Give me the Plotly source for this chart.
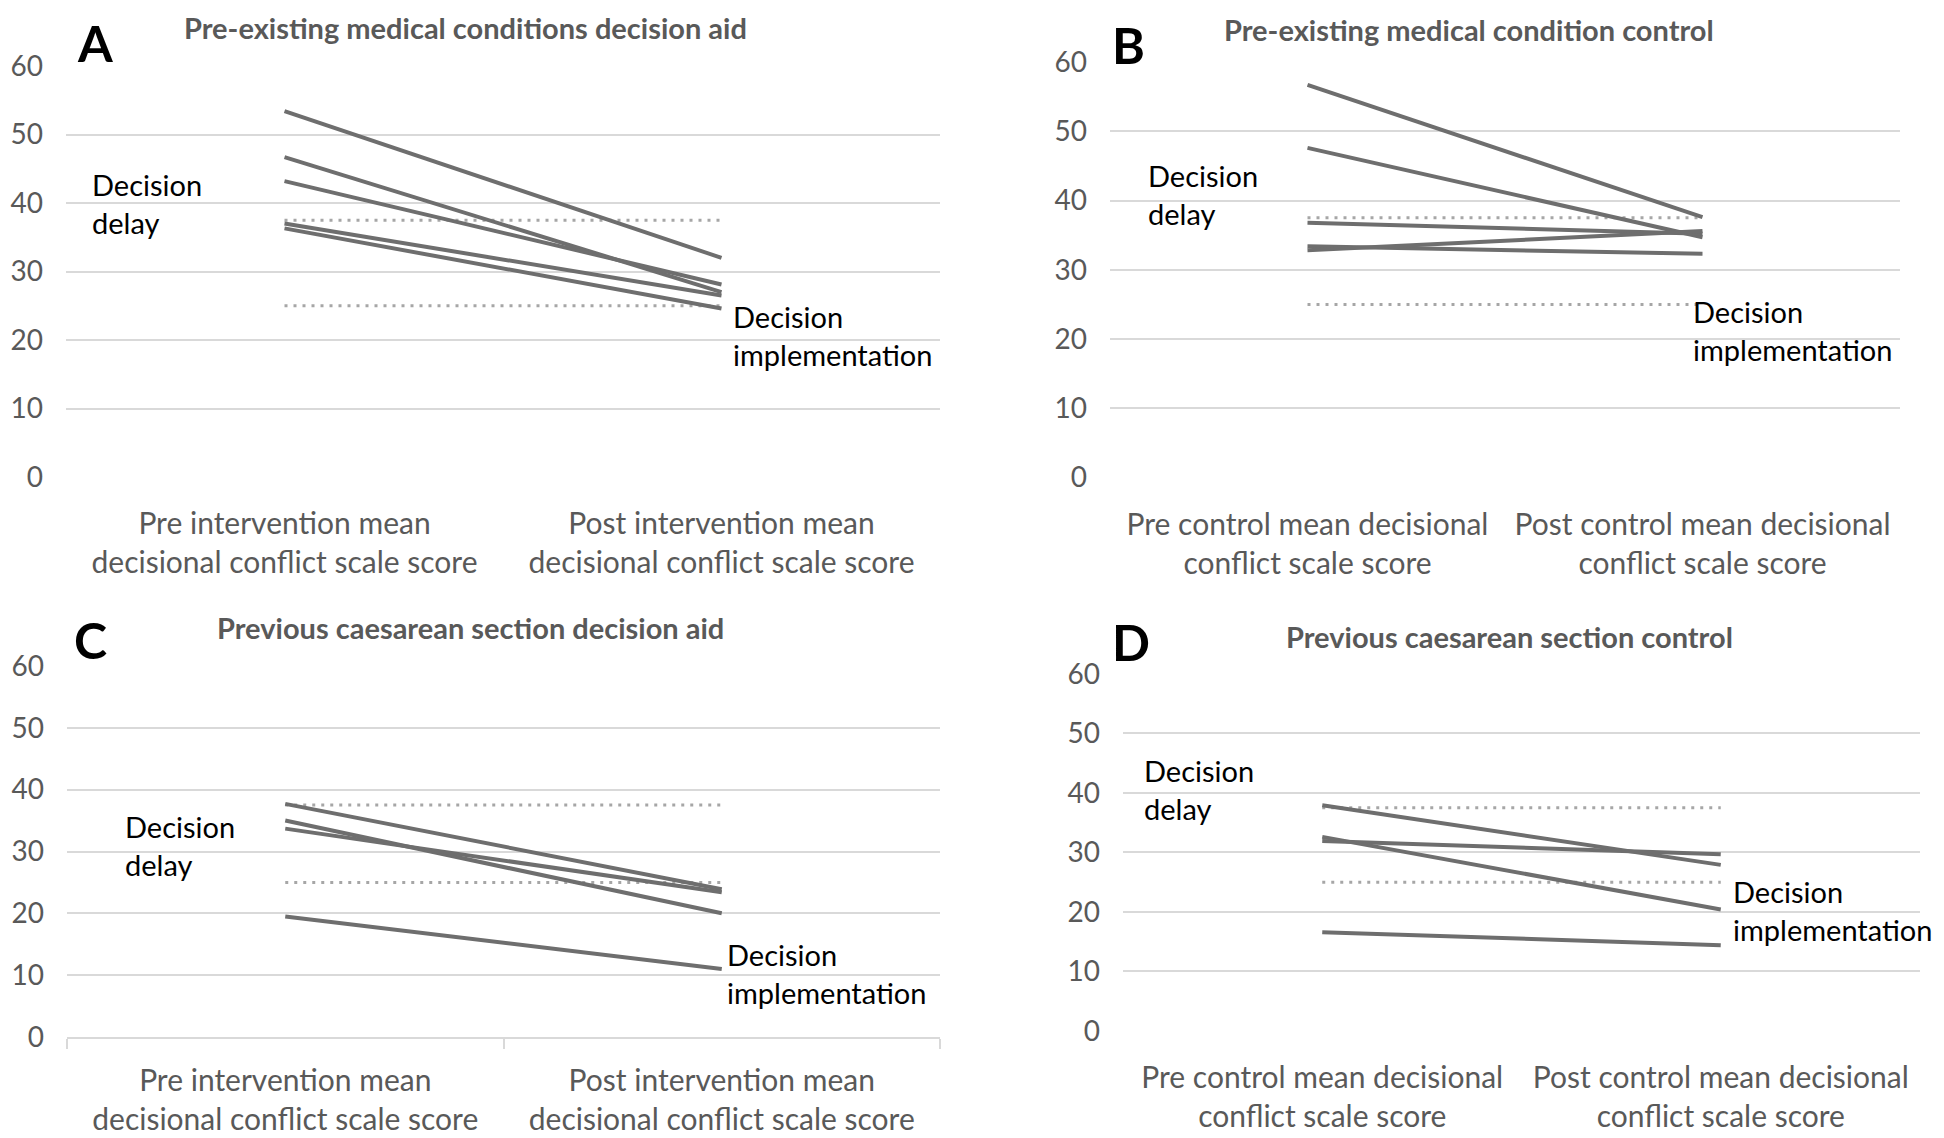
import plotly.graph_objects as go

W, H = 1944, 1138
OFF = 8  # page body margin

# category labels
cats_aid = ["Pre intervention mean<br>decisional conflict scale score",
            "Post intervention mean<br>decisional conflict scale score"]
cats_ctrl = ["Pre control mean decisional<br>conflict scale score",
             "Post control mean decisional<br>conflict scale score"]

# decisional conflict thresholds (delay / implementation)
thresholds = [37.5, 25]

# A: pre-existing medical conditions, decision aid
a_pre = [53.4, 46.7, 43.2, 37.0, 36.3]
a_post = [32.0, 27.0, 28.1, 26.5, 24.6]
# B: pre-existing medical condition, control
b_pre = [56.7, 47.6, 36.8, 33.4, 32.8]
b_post = [37.6, 34.7, 35.2, 32.3, 35.6]
# C: previous caesarean section, decision aid
c_pre = [37.7, 35.0, 33.7, 19.5]
c_post = [23.9, 20.0, 23.4, 11.0]
# D: previous caesarean section, control
d_pre = [37.9, 31.9, 32.6, 16.6]
d_post = [27.9, 29.7, 20.4, 14.4]

titles = ["Pre-existing medical conditions decision aid",
          "Pre-existing medical condition control",
          "Previous caesarean section decision aid",
          "Previous caesarean section control"]
letters = ["A", "B", "C", "D"]

FONT = "Lato"
LINE = "#6e6e6e"
DOT = "#a6a6a6"
GRID = "#d9d9d9"
TXT = "#595959"


def px(x, y):
    return (x - OFF) / W, 1 - (y - OFF) / H


# pixel boxes of the plot areas: x0, x1, y_top(60), y_bottom(0)
boxes = [(66, 940, 66, 477), (1110, 1900, 62, 477.5),
         (67, 940, 666, 1037), (1123, 1920, 673.7, 1031)]

panels = [(cats_aid, a_pre, a_post), (cats_ctrl, b_pre, b_post),
          (cats_aid, c_pre, c_post), (cats_ctrl, d_pre, d_post)]

fig = go.Figure()
layout = {}
for i, ((cats, pre, post), box) in enumerate(zip(panels, boxes)):
    n = "" if i == 0 else str(i + 1)
    xa, ya = "x" + n, "y" + n
    x0, yt = px(box[0], box[2])
    x1, yb = px(box[1], box[3])
    # threshold lines
    for t in thresholds:
        fig.add_trace(go.Scatter(x=cats, y=[t, t], mode="lines", xaxis=xa, yaxis=ya,
                                 line=dict(color=DOT, width=3, dash="3px,6px"),
                                 showlegend=False, hoverinfo="skip"))
    for p, q in zip(pre, post):
        fig.add_trace(go.Scatter(x=cats, y=[p, q], mode="lines", xaxis=xa, yaxis=ya,
                                 line=dict(color=LINE, width=4),
                                 showlegend=False))
    show_base = (i == 2)
    layout["xaxis" + n] = dict(
        domain=[x0, x1], anchor=ya, type="category", range=[-0.5, 1.5],
        showgrid=False, zeroline=False,
        showline=show_base, linecolor=GRID, linewidth=2,
        ticks="outside" if show_base else "", tickson="boundaries",
        ticklen=10, tickcolor=GRID, tickwidth=2,
        ticklabelstandoff=16 if show_base else 26,
        tickfont=dict(family=FONT, size=30, color=TXT))
    layout["yaxis" + n] = dict(
        domain=[yb, yt], anchor=xa, range=[0, 60], dtick=10,
        showgrid=True, gridcolor=GRID, gridwidth=2, zeroline=False, showline=False,
        ticks="", ticklabelstandoff=22,
        tickfont=dict(family=FONT, size=28, color=TXT))

annotations = []
title_pos = [(465, 27), (1469, 30), (470, 627), (1509, 636)]
letter_pos = [(95, 43), (1128, 45), (90, 640), (1131, 642)]
for t, (x, y) in zip(titles, title_pos):
    ax, ay = px(x, y)
    annotations.append(dict(x=ax, y=ay, xref="paper", yref="paper", text="<b>" + t + "</b>",
                            showarrow=False, xanchor="center", yanchor="middle",
                            font=dict(family=FONT, size=29, color=TXT)))
for t, (x, y) in zip(letters, letter_pos):
    ax, ay = px(x, y)
    annotations.append(dict(x=ax, y=ay, xref="paper", yref="paper", text="<b>" + t + "</b>",
                            showarrow=False, xanchor="center", yanchor="middle",
                            font=dict(family=FONT, size=50, color="black")))

delay_pos = [(90, 203), (1146, 195), (123, 845), (1142, 789)]
impl_pos = [(731, 336), (1691, 330), (725, 973), (1731, 910)]
for (x, y) in delay_pos:
    ax, ay = px(x, y)
    annotations.append(dict(x=ax, y=ay, xref="paper", yref="paper", text="Decision<br>delay",
                            showarrow=False, xanchor="left", yanchor="middle", align="left",
                            font=dict(family=FONT, size=29, color="black")))
for (x, y) in impl_pos:
    ax, ay = px(x, y)
    annotations.append(dict(x=ax, y=ay, xref="paper", yref="paper",
                            text="Decision<br>implementation",
                            showarrow=False, xanchor="left", yanchor="middle", align="left",
                            font=dict(family=FONT, size=29, color="black")))

fig.update_layout(width=W, height=H, autosize=False,
                  margin=dict(l=0, r=0, t=0, b=0, autoexpand=False),
                  paper_bgcolor="white", plot_bgcolor="white",
                  annotations=annotations, **layout)

fig.write_html("out.html")
